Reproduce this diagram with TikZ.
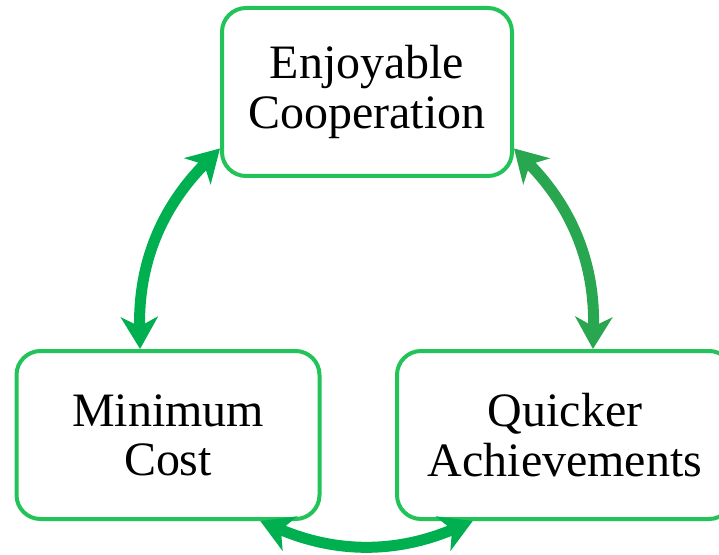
\documentclass[tikz,border=0pt]{standalone}
\usepackage{fontspec}
\setmainfont{Liberation Serif}
\usetikzlibrary{arrows.meta}
\definecolor{boxGreen}{RGB}{34,195,89}
\definecolor{arrowGreen}{RGB}{0,176,80}
\definecolor{arrowDark}{RGB}{40,166,80}

\begin{document}
\begin{tikzpicture}
[nodeDecorate/.style={shape=rectangle,rounded corners=0.48cm,draw=boxGreen,line width=0.08cm,%
    minimum height=3.36cm,align=center,font=\fontsize{27.3}{28}\selectfont},%
  lineDecorate/.style={line width=0.22cm,%
    {Stealth[length=0.64cm,width=0.74cm,inset=0.19cm]}-{Stealth[length=0.64cm,width=0.74cm,inset=0.19cm]}}]
\useasboundingbox (0,0) rectangle (14.38,11.08);
%% boxes
\foreach \nodename/\x/\y/\w/\txt in {enjoy/7.34/9.24/5.8/{Enjoyable\\Cooperation},
  mincost/3.36/2.38/6.06/{Minimum\\Cost}, quick/11.3/2.38/6.72/{Quicker\\Achievements}} {
  \node (\nodename) at (\x,\y) [nodeDecorate,minimum width=\w cm] {\txt};
}
%% double arrows
\path
\foreach \startnode/\endnode/\bend/\col in {enjoy.-159/mincost.108/-23/arrowGreen,
  enjoy.-21/quick.72/23/arrowDark, mincost.-43/quick.-137/-23/arrowGreen} {
  (\startnode) edge[lineDecorate,draw=\col,bend left=\bend] (\endnode)
};
\end{tikzpicture}
\end{document}
